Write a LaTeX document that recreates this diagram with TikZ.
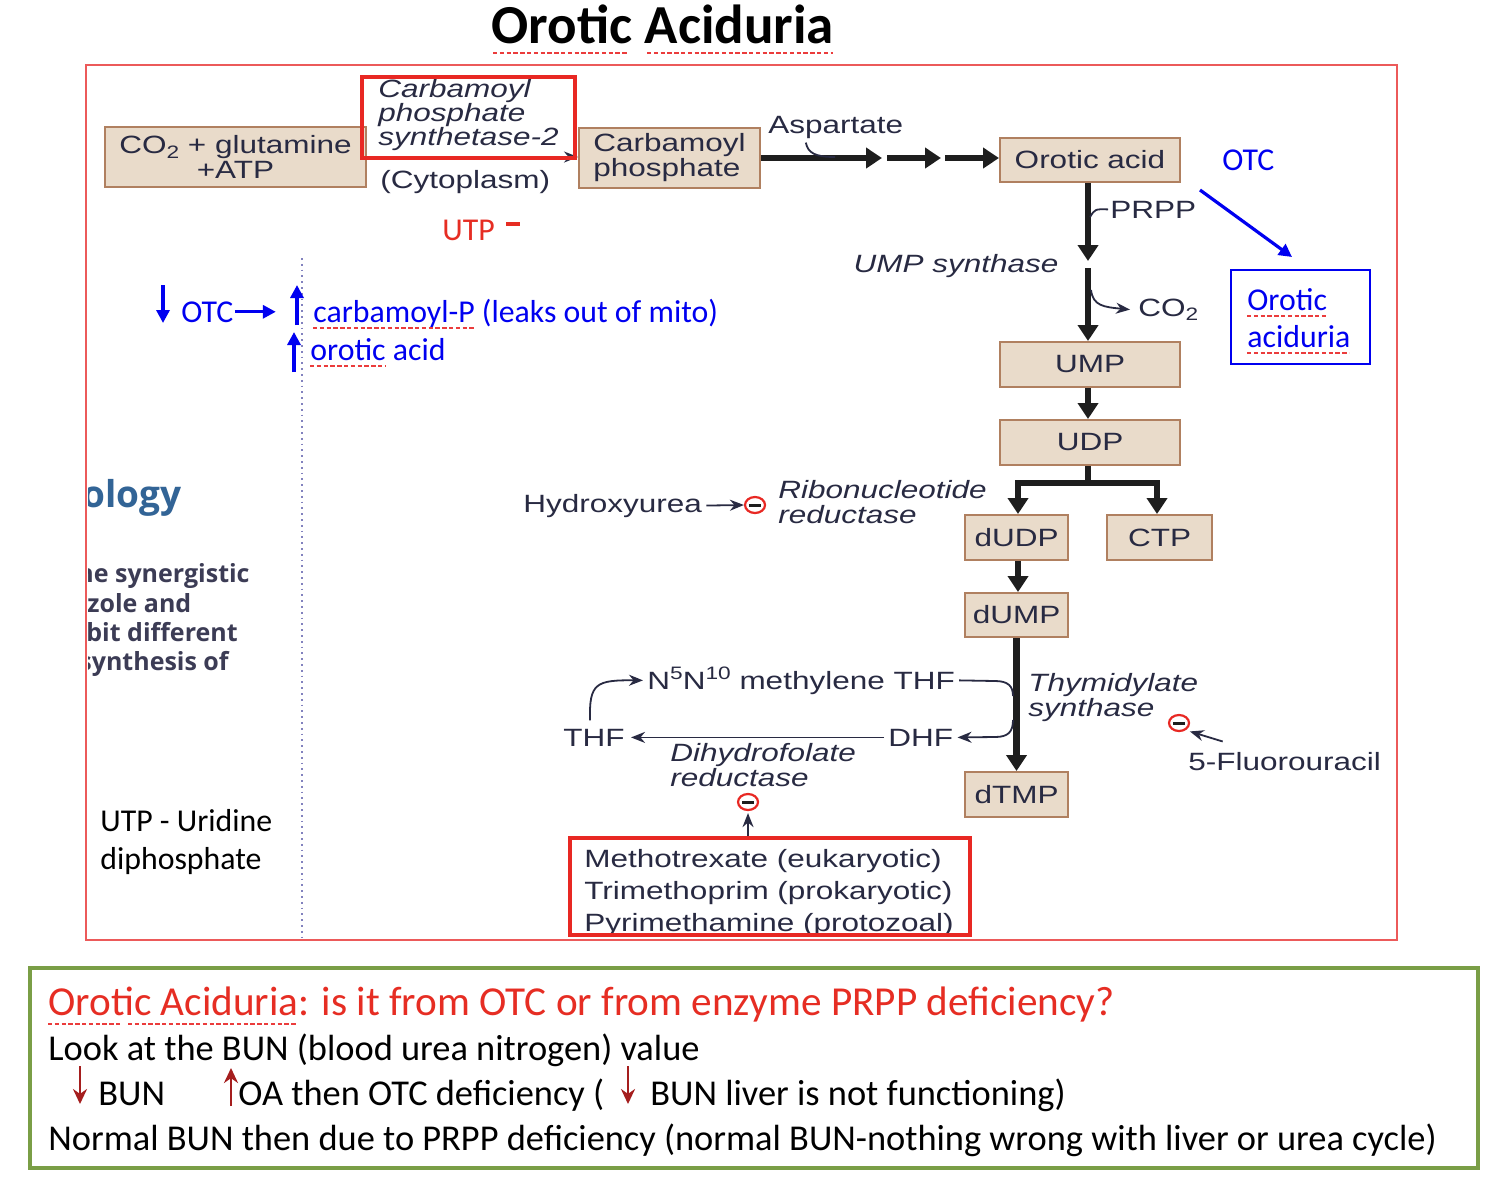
\documentclass[tikz,border=0pt]{standalone}
\usepackage{fontspec}
\setmainfont{Carlito}
\newfontfamily\arw[FakeStretch=1.26]{Liberation Sans}
\newfontfamily\osans{Open Sans}
\usetikzlibrary{arrows.meta,shapes.geometric}

\definecolor{txt}{RGB}{40,42,66}
\definecolor{boxfill}{RGB}{233,219,202}
\definecolor{boxline}{RGB}{176,128,96}
\definecolor{hlred}{RGB}{232,40,35}
\definecolor{framered}{RGB}{236,90,90}
\definecolor{okgreen}{RGB}{122,158,70}
\definecolor{annblue}{RGB}{0,0,240}
\definecolor{darkred}{RGB}{165,30,30}
\definecolor{spell}{RGB}{235,60,60}
\definecolor{redtext}{RGB}{230,45,35}
\definecolor{flowblack}{RGB}{30,30,30}
\definecolor{steelblue}{RGB}{50,100,150}
\definecolor{fragtext}{RGB}{60,60,85}
\definecolor{dotline}{RGB}{130,130,190}

\newcommand\dg{\arw\fontsize{12.5}{12.5}\selectfont}
\newcommand\sltwo{\raisebox{-0.35ex}{\fontsize{9}{9}\selectfont 2}}
\newcommand\sups[1]{\raisebox{0.75ex}{\fontsize{9}{9}\selectfont #1}}
\newcommand\ann{\fontsize{15.9}{19}\selectfont}
\newcommand\btm{\fontsize{18.2}{22}\selectfont}

\begin{document}
\begin{tikzpicture}[x=0.5pt,y=-0.5pt,
  box/.style={draw=boxline, fill=boxfill, line width=1pt, inner sep=0pt,
    font=\dg, text=txt, align=center},
  lbl/.style={inner sep=0pt, font=\dg, text=txt},
  ilbl/.style={lbl, font=\dg\itshape, align=left},
  flow/.style={line width=3.2pt, draw=flowblack, -{Triangle[width=10pt,length=8pt]}},
  flowline/.style={line width=3.2pt, draw=flowblack},
  thin/.style={line width=0.9pt, draw=txt, -{Stealth[width=5.5pt,length=7pt]}},
  thinline/.style={line width=0.9pt, draw=txt},
  inhib/.style={ellipse, draw=hlred, line width=1.1pt, minimum width=10pt, minimum height=8pt, inner sep=0pt,
    path picture={\draw[line width=1.5pt, flowblack]
      ([xshift=-3pt]path picture bounding box.center) --
      ([xshift=3pt]path picture bounding box.center);}},
  hlbox/.style={draw=hlred, line width=2pt, inner sep=0pt},
  annot/.style={inner sep=0pt, font=\ann, text=annblue},
  bluearrow/.style={line width=1.6pt, draw=annblue, -{Triangle[width=6.5pt,length=6.5pt]}},
  redarrow/.style={line width=1.3pt, draw=darkred, -{Stealth[width=7pt,length=7.5pt]}},
  spellline/.style={draw=spell, line width=0.7pt, dash pattern=on 2.2pt off 1.2pt},
  frag/.style={anchor=base west, inner sep=0pt, font=\osans\bfseries\fontsize{12.5}{12.5}\selectfont, text=fragtext},
]
\useasboundingbox (0,0) rectangle (1502,1184);
\fill[white] (0,0) rectangle (1502,1184);

% heading
\node[anchor=base, inner sep=0pt, font=\fontsize{27.5}{30}\selectfont\bfseries] (title) at (663,43) {Orotic Aciduria};
\draw[spellline] (493,53) -- (628,53);
\draw[spellline] (647,53) -- (833,53);

% outer frames
\draw[draw=framered, line width=0.8pt] (86,65) rectangle (1397,940);
\draw[draw=okgreen, line width=2.2pt] (30,968) rectangle (1478,1168);
\draw[dotline, dotted, line width=0.9pt] (302,258) -- (302,940);

% fragments of a neighbouring text column
\begin{scope}
  \clip (88,460) rectangle (298,700);
  \node[anchor=base west, inner sep=0pt, font=\osans\bfseries\fontsize{18.5}{18.5}\selectfont, text=steelblue] (fragA) at (82,507) {ology};
  \node[frag] (fragB) at (77,582) {he synergistic};
  \node[frag] (fragC) at (87,612) {zole and};
  \node[frag] (fragD) at (86,641) {bit different};
  \node[frag] (fragE) at (79,670) {synthesis of};
\end{scope}
\node[anchor=base west, inner sep=0pt, font=\ann] (utpdef1) at (100,831) {UTP - Uridine};
\node[anchor=base west, inner sep=0pt, font=\ann] (utpdef2) at (100,869) {diphosphate};

% pathway boxes
\node[box, minimum width=130.5pt, minimum height=30pt] (co2) at (235.5,157) {CO\sltwo{} + glutamine\\+ATP};
\node[box, minimum width=90.5pt, minimum height=30pt, align=left] (cp) at (669.5,158) {Carbamoyl\\phosphate};
\node[box, minimum width=90pt, minimum height=22pt] (oa) at (1090,160) {Orotic acid};
\node[box, minimum width=90pt, minimum height=22.5pt] (ump) at (1090,364.5) {UMP};
\node[box, minimum width=90pt, minimum height=22.5pt] (udp) at (1090,442.5) {UDP};
\node[box, minimum width=51.5pt, minimum height=22.5pt] (dudp) at (1016.5,537.5) {dUDP};
\node[box, minimum width=52.5pt, minimum height=22.5pt] (ctp) at (1159.5,537.5) {CTP};
\node[box, minimum width=51.5pt, minimum height=22pt] (dump) at (1016.5,615) {dUMP};
\node[box, minimum width=51.5pt, minimum height=22.5pt] (dtmp) at (1016.5,794.5) {dTMP};

% labels
\node[ilbl, anchor=north west, font=\dg\itshape\fontsize{12.5}{12}\selectfont] (cpstext) at (378,79) {Carbamoyl\\phosphate\\synthetase-2};
\node[lbl, anchor=base west] (cyto) at (380,188) {(Cytoplasm)};
\node[lbl, anchor=base west] (asp) at (768,133) {Aspartate};
\node[lbl, anchor=base west] (prpp) at (1110,218) {PRPP};
\node[ilbl, anchor=base] (umps) at (956,272) {UMP synthase};
\node[lbl, anchor=base west] (co2b) at (1138,316) {CO\sltwo};
\node[lbl, anchor=base west] (hu) at (523,512) {Hydroxyurea};
\node[ilbl, anchor=north west] (rnr) at (778,480) {Ribonucleotide\\reductase};
\node[ilbl, anchor=north west] (ts) at (1028,673) {Thymidylate\\synthase};
\node[lbl, anchor=base west] (fu) at (1188,770) {5-Fluorouracil};
\node[lbl, anchor=base west] (n5) at (647,689) {N\sups{5}N\sups{10} methylene THF};
\node[lbl, anchor=base west] (thf) at (563,746) {THF};
\node[lbl, anchor=base west] (dhf) at (888,746) {DHF};
\node[ilbl, anchor=north west] (dhfr) at (670,743) {Dihydrofolate\\reductase};
\node[lbl, anchor=north west, align=left, font=\dg\fontsize{12.5}{16}\selectfont] (drugtext) at (584,849) {Methotrexate (eukaryotic)\\Trimethoprim (prokaryotic)\\Pyrimethamine (protozoal)};

% inhibition marks
\node[inhib] (inh1) at (755,505) {};
\node[inhib] (inh2) at (748,802) {};
\node[inhib] (inh3) at (1179,723) {};

% pathway connectors
\draw[thin] (co2.east) -- (co2.east -| cp.west);
\coordinate (h1) at (882,158);
\coordinate (h1b) at (887,158);
\coordinate (h2) at (941,158);
\coordinate (h2b) at (945,158);
\draw[flow] (cp.east) -- (h1);
\draw[flow] (h1b) -- (h2);
\draw[flow] (h2b) -- (h2b -| oa.west);
\draw[thinline] ([xshift=-15pt,yshift=-2pt]asp.south) .. controls (808,153) and (815,157) .. (835,157);

\coordinate (usA) at (1088,261);
\coordinate (usB) at (1088,268);
\draw[flow] ([xshift=-1pt]oa.south) -- (usA);
\draw[flow] (usB) -- ([xshift=-1pt]ump.north);
\draw[thinline] (1090,217) .. controls (1095,209) .. ([xshift=-1pt]prpp.west);
\draw[thin] (1091,290) .. controls (1093,306) and (1104,307) .. ([xshift=-4pt]co2b.west);

\draw[flow] ([xshift=-1pt]ump.south) -- ([xshift=-1pt]udp.north);
\draw[flowline] ([xshift=-1pt]udp.south) -- ++(0,17) coordinate (br);
\draw[flow] (br) -| ([xshift=0.75pt]dudp.north);
\draw[flow] (br) -| ([xshift=-1.25pt]ctp.north);
\draw[flow] ([xshift=0.75pt]dudp.south) -- ([xshift=0.75pt]dump.north);
\draw[flow] (dump.south) -- (dtmp.north);

% folate cycle
\coordinate (tsA) at (1013,696);
\coordinate (tsB) at (1013,720);
\draw[thinline] ([xshift=2pt]n5.east) -- (995,681) .. controls (1008,681) and (1013,686) .. (tsA);
\draw[thin] (tsB) .. controls (1013,732) and (1008,737) .. (995,737) -- ([xshift=2pt]dhf.east);
\draw[thin] ([xshift=-2pt]dhf.west) -- ([xshift=3pt]thf.east);
\draw[thin] ([xshift=-2pt,yshift=4pt]thf.north) .. controls (589,683) and (596,680) .. ([xshift=-2pt]n5.west);

% highlight boxes
\node[hlbox, minimum width=106.5pt, minimum height=40.5pt] (cps) at (468.5,117.5) {};
\node[hlbox, minimum width=200pt, minimum height=48.5pt] (drugs) at (770,886.5) {};

% drug inhibitors
\draw[thin] ([xshift=2pt]hu.east) -- (inh1.west);
\draw[thin] (inh2 |- drugs.north) -- ([yshift=-1pt]inh2.south);
\draw[thin] ([xshift=-31pt,yshift=5pt]fu.north) -- ([xshift=1.5pt,yshift=-1pt]inh3.south east);

% UTP feedback
\node[anchor=base west, inner sep=0pt, font=\ann, text=redtext] (utp) at (442,240) {UTP};
\draw[redtext, line width=1.6pt] ([xshift=5.5pt,yshift=8pt]utp.base east) -- ++(14,0);

% OTC annotations
\node[annot, anchor=base west] (otc) at (1222,170) {OTC};
\node[draw=annblue, line width=1pt, minimum width=69.5pt, minimum height=47pt, inner sep=0pt] (oabox) at (1300.5,317) {};
\node[annot, anchor=base west] (oa1) at (1247,310) {Orotic};
\node[annot, anchor=base west] (oa2) at (1247,347) {aciduria};
\draw[spellline] (1247,316) -- (1326,316);
\draw[spellline] (1247,353) -- (1349,353);
\coordinate (dgA) at (1200,190);
\draw[bluearrow] (dgA) -- ([xshift=-4.25pt,yshift=6pt]oabox.north);

\coordinate (dnA) at (163,285);
\coordinate (dnB) at (163,323);
\draw[bluearrow] (dnA) -- (dnB);
\node[annot, anchor=base west] (otcl) at (181,322) {OTC};
\draw[bluearrow] ([xshift=0.5pt]otcl.east) -- ++(41,0) coordinate (otcR);
\coordinate (upA) at (297,325);
\coordinate (upB) at (297,285);
\draw[bluearrow] (upA) -- (upB);
\node[annot, anchor=base west] (leak) at (313,322) {carbamoyl-P (leaks out of mito)};
\coordinate (upC) at (294,372);
\coordinate (upD) at (294,332);
\draw[bluearrow] (upC) -- (upD);
\node[annot, anchor=base west] (oacid) at (310,360) {orotic acid};
\draw[spellline] (313,328) -- (474,328);
\draw[spellline] (310,366) -- (385,366);

% summary panel
\node[anchor=base west, inner sep=0pt, font=\fontsize{20.6}{24}\selectfont, text=redtext] (q) at (48,1015) {Orotic Aciduria: is it from OTC or from enzyme PRPP deficiency?};
\draw[spellline] (48,1024) -- (120,1024);
\draw[spellline] (128,1024) -- (297,1024);
\node[anchor=base west, inner sep=0pt, font=\btm] (look) at (48,1060) {Look at the BUN (blood urea nitrogen) value};
\coordinate (raA) at (80,1066);
\coordinate (raB) at (80,1104);
\draw[redarrow] (raA) -- (raB);
\node[anchor=base west, inner sep=0pt, font=\btm] (bun1) at (98,1105) {BUN};
\coordinate (raC) at (231,1106);
\coordinate (raD) at (231,1068);
\draw[redarrow] (raC) -- (raD);
\node[anchor=base west, inner sep=0pt, font=\btm] (oaotc) at (238,1105) {OA then OTC deficiency (};
\coordinate (raE) at (628,1066);
\coordinate (raF) at (628,1104);
\draw[redarrow] (raE) -- (raF);
\node[anchor=base west, inner sep=0pt, font=\btm] (bun2) at (650,1105) {BUN liver is not functioning)};
\node[anchor=base west, inner sep=0pt, font=\btm] (normal) at (48,1150) {Normal BUN then due to PRPP deficiency (normal BUN-nothing wrong with liver or urea cycle)};
\end{tikzpicture}
\end{document}
